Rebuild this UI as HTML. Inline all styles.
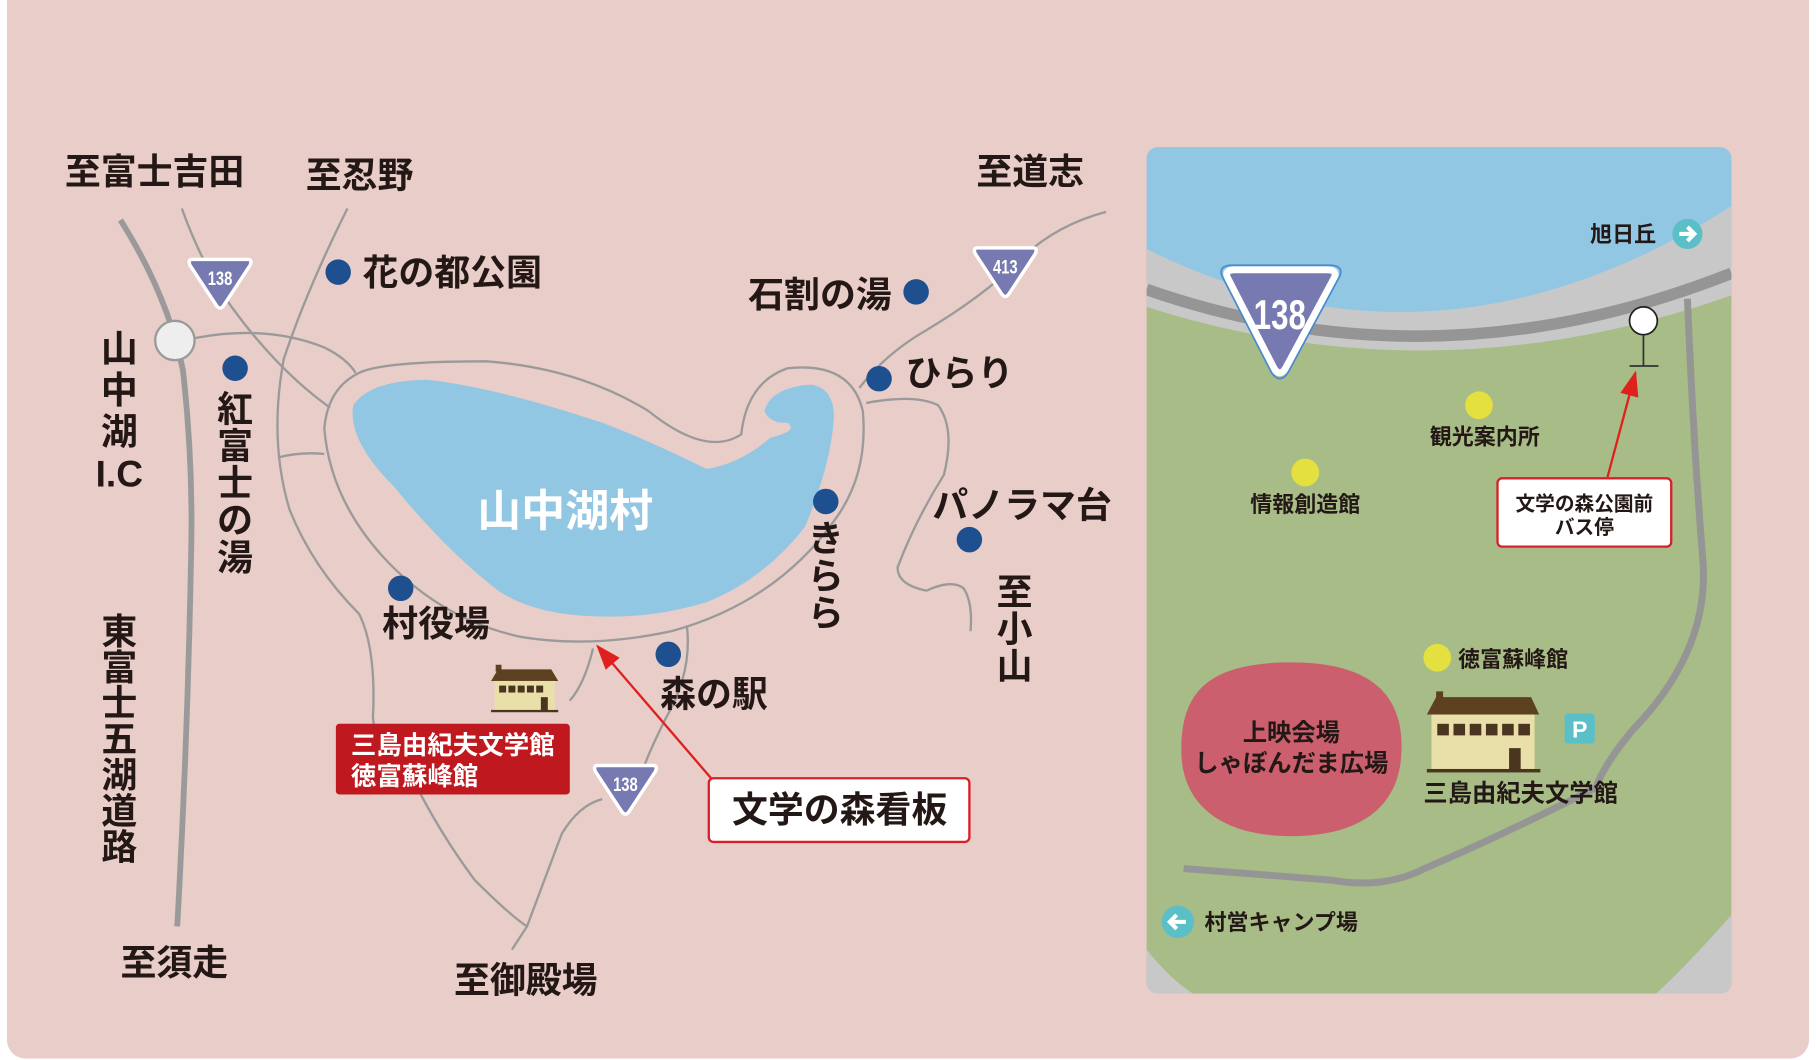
<!DOCTYPE html>
<html><head><meta charset="utf-8"><style>
html,body{margin:0;padding:0;background:#fff;}
svg{display:block;}
text{font-family:"Liberation Sans","Noto Sans CJK JP",sans-serif;font-weight:bold;fill:#231815;}
</style></head><body>
<svg width="1816" height="1060" viewBox="0 0 1568 915.3" preserveAspectRatio="none" xmlns="http://www.w3.org/2000/svg">
<defs>
<clipPath id="pc"><rect x="990" y="127" width="505" height="731" rx="10"/></clipPath>
<marker id="ah" markerWidth="22" markerHeight="16" refX="20" refY="8" orient="auto" markerUnits="userSpaceOnUse"><path d="M0,0 L22,8 L0,16z" fill="#e0201e"/></marker>
</defs>
<rect x="6" y="-20" width="1556" height="934" rx="16" fill="#e8cdc9"/>

<!-- right panel -->
<g clip-path="url(#pc)">
<rect x="990" y="127" width="505" height="731" fill="#a7bc86"/>
<path d="M990,127 H1495 V255 Q1240,345 990,265 Z" fill="#c8c8c8"/>
<path d="M990,250 Q1240,337 1495,236" fill="none" stroke="#959595" stroke-width="10"/>
<path d="M990,127 H1495 V178 Q1240,340 990,215 Z" fill="#92c7e3"/>
<path d="M1495,790 Q1460,830 1430,858 H1495Z" fill="#c8c8c8"/>
<path d="M990,820 Q1010,845 1030,858 H990Z" fill="#c8c8c8"/>
<path d="M1457,258 Q1462,380 1470,480 Q1478,560 1410,630 Q1385,660 1378,680 Q1300,720 1230,750 Q1195,768 1150,760 L1022,750" fill="none" stroke="#959595" stroke-width="6"/>
</g>
<!-- 138 big shield -->
<path d="M1060,240 Q1057,233 1066,233 H1146 Q1155,233 1152,240 L1110,318 Q1105,326 1100,318 Z" fill="#7779b1" stroke="#fff" stroke-width="6"/>
<path d="M1055,238 Q1052,229 1064,229 H1148 Q1160,229 1157,238 L1112,322 Q1105,332 1098,322 Z" fill="none" stroke="#4a8ad0" stroke-width="1.5"/>
<text x="1105" y="284" font-size="36" text-anchor="middle" style="fill:#fff" transform="translate(1105 0) scale(0.75 1) translate(-1105 0)">138</text>
<text x="1373" y="209" font-size="19">旭日丘</text>
<circle cx="1457" cy="202" r="13" fill="#5bbfc8"/>
<path d="M1450,202 H1462 M1457,196 L1463,202 L1457,208" stroke="#fff" stroke-width="3.5" fill="none"/>
<line x1="1419" y1="289" x2="1419" y2="316" stroke="#333" stroke-width="1.5"/>
<line x1="1407" y1="316" x2="1432" y2="316" stroke="#333" stroke-width="1.5"/>
<circle cx="1419" cy="277" r="12" fill="#fff" stroke="#222" stroke-width="1.5"/>
<line x1="1388" y1="412" x2="1412" y2="322" stroke="#e0201e" stroke-width="2" marker-end="url(#ah)"/>
<rect x="1293" y="413" width="150" height="59" rx="4" fill="#fff" stroke="#d8202a" stroke-width="2"/>
<text x="1368" y="441" font-size="17" text-anchor="middle">文学の森公園前</text>
<text x="1368" y="461" font-size="17" text-anchor="middle">バス停</text>
<circle cx="1277" cy="350" r="12" fill="#e3e03f"/>
<circle cx="1127" cy="408" r="12" fill="#e3e03f"/>
<circle cx="1241" cy="568" r="12" fill="#e3e03f"/>
<text x="1282" y="384" font-size="19" text-anchor="middle">観光案内所</text>
<text x="1127" y="442" font-size="19" text-anchor="middle">情報創造館</text>
<text x="1259" y="576" font-size="19">徳富蘇峰館</text>
<path d="M1115,572 C1195,572 1212,610 1210,650 C1208,700 1170,722 1115,722 C1055,722 1020,695 1020,648 C1020,600 1040,572 1115,572Z" fill="#cb5f6e"/>
<text x="1115" y="640" font-size="21" text-anchor="middle">上映会場</text>
<text x="1115" y="666" font-size="21" text-anchor="middle">しゃぼんだま広場</text>
<!-- building -->
<rect x="1240" y="597" width="6" height="8" fill="#5d4020"/>
<path d="M1232,617 L1240,602 H1322 L1329,617Z" fill="#5d4020"/>
<rect x="1236" y="617" width="89" height="48" fill="#e8e0a8"/>
<g fill="#4a3520"><rect x="1241" y="625" width="10" height="10"/><rect x="1255" y="625" width="10" height="10"/><rect x="1269" y="625" width="10" height="10"/><rect x="1283" y="625" width="10" height="10"/><rect x="1297" y="625" width="10" height="10"/><rect x="1311" y="625" width="10" height="10"/><rect x="1303" y="646" width="10" height="19"/></g>
<rect x="1232" y="664" width="98" height="3" fill="#4a3520"/>
<rect x="1351" y="616" width="26" height="26" rx="3" fill="#5bbfc8"/>
<text x="1364" y="637" font-size="20" text-anchor="middle" style="fill:#fff">P</text>
<text x="1313" y="692" font-size="21" text-anchor="middle">三島由紀夫文学館</text>
<circle cx="1017" cy="796" r="14" fill="#5bbfc8"/>
<path d="M1024,796 H1011 M1016,790 L1010,796 L1016,802" stroke="#fff" stroke-width="3.5" fill="none"/>
<text x="1040" y="803" font-size="19">村営キャンプ場</text>

<!-- left map roads -->
<g fill="none" stroke="#9a9a9a" stroke-width="2">
<path d="M310,322 Q330,312 420,312 Q500,318 560,355 Q610,395 640,375 Q645,330 680,318 Q735,312 745,355 Q750,410 720,450 Q670,520 580,545 Q510,560 450,550 Q380,535 330,480 Q285,430 280,370 Q283,335 310,322Z"/>
<path d="M157,180 Q175,230 200,265 Q240,320 285,352"/>
<path d="M168,292 Q230,280 280,300 Q300,310 307,322"/>
<path d="M300,180 Q265,250 245,310 Q232,380 250,440 Q270,490 310,530 Q325,560 322,620 Q325,650 355,670 Q380,720 410,760 Q440,790 455,800"/>
<path d="M240,395 Q260,390 280,392"/>
<path d="M442,820 L455,800 Q470,760 485,720 Q500,695 520,690"/>
<path d="M593,540 Q598,580 575,620 Q560,650 555,665"/>
<path d="M492,605 Q505,590 512,560"/>
<path d="M955,183 Q910,195 880,225 Q850,255 800,285 Q765,305 742,335"/>
<path d="M748,348 Q790,340 810,350 Q825,370 815,410 Q790,450 775,490 Q775,505 800,510 Q822,500 832,508 Q840,520 838,545"/>
</g>
<path d="M104,190 Q145,255 158,320 Q167,400 165,480 Q162,640 153,800" fill="none" stroke="#9a9a9a" stroke-width="5"/>
<circle cx="151" cy="294" r="17" fill="#eeeeee" stroke="#9a9a9a" stroke-width="2"/>
<!-- lake -->
<path d="M305,350 Q320,328 370,328 Q430,335 520,365 Q560,380 610,405 Q640,400 665,378 Q690,372 680,365 Q665,366 660,355 Q665,335 700,332 Q720,335 720,360 Q718,400 695,455 Q660,500 610,520 Q560,535 510,532 Q460,530 430,510 Q385,475 340,420 Q300,380 305,350Z" fill="#92c7e3"/>
<text x="488" y="454" font-size="38" text-anchor="middle" style="fill:#fff">山中湖村</text>

<!-- small shields -->
<g>
<path d="M166,224 H214 Q218,224 216,229 L193,264 Q190,268 187,264 L164,229 Q162,224 166,224Z" fill="#7779b1" stroke="#fff" stroke-width="3"/>
<text x="190" y="246" font-size="17" text-anchor="middle" style="fill:#fff" transform="translate(190 0) scale(0.75 1) translate(-190 0)">138</text>
<path d="M844,214 H892 Q896,214 894,219 L871,254 Q868,258 865,254 L842,219 Q840,214 844,214Z" fill="#7779b1" stroke="#fff" stroke-width="3"/>
<text x="868" y="236" font-size="17" text-anchor="middle" style="fill:#fff" transform="translate(868 0) scale(0.75 1) translate(-868 0)">413</text>
<path d="M516,661 H564 Q568,661 566,666 L543,701 Q540,705 537,701 L514,666 Q512,661 516,661Z" fill="#7779b1" stroke="#fff" stroke-width="3"/>
<text x="540" y="683" font-size="17" text-anchor="middle" style="fill:#fff" transform="translate(540 0) scale(0.75 1) translate(-540 0)">138</text>
</g>

<!-- dots -->
<g fill="#1e4f8f">
<circle cx="292" cy="235" r="11"/><circle cx="203" cy="318" r="11"/><circle cx="791" cy="252" r="11"/><circle cx="759" cy="327" r="11"/><circle cx="713" cy="433" r="11"/><circle cx="837" cy="466" r="11"/><circle cx="346" cy="508" r="11"/><circle cx="577" cy="565" r="11"/>
</g>

<!-- labels -->
<g font-size="31">
<text x="56" y="159">至富士吉田</text>
<text x="264" y="162">至忍野</text>
<text x="843" y="159">至道志</text>
<text x="313" y="246">花の都公園</text>
<text x="646" y="265">石割の湯</text>
<text x="782" y="333">ひらり</text>
<text x="805" y="447">パノラマ台</text>
<text x="330" y="549">村役場</text>
<text x="570" y="610">森の駅</text>
<text x="104" y="842">至須走</text>
<text x="392" y="857">至御殿場</text>
</g>
<g font-size="32" text-anchor="middle">
<text x="103" y="312">山</text><text x="103" y="348">中</text><text x="103" y="384">湖</text><text x="103" y="420">I.C</text>
</g>
<g font-size="31" text-anchor="middle">
<text x="203" y="364">紅</text><text x="203" y="396">富</text><text x="203" y="428">士</text><text x="203" y="460">の</text><text x="203" y="492">湯</text>
<text x="713" y="476">き</text><text x="713" y="508">ら</text><text x="713" y="540">ら</text>
<text x="876" y="522">至</text><text x="876" y="554">小</text><text x="876" y="586">山</text>
<text x="103" y="556">東</text><text x="103" y="587">富</text><text x="103" y="618">士</text><text x="103" y="649">五</text><text x="103" y="680">湖</text><text x="103" y="711">道</text><text x="103" y="742">路</text>
</g>

<!-- small building -->
<rect x="428" y="574" width="5" height="6" fill="#5d4020"/>
<path d="M424,588 L430,578 H476 L482,588Z" fill="#5d4020"/>
<rect x="427" y="588" width="52" height="26" fill="#e8e0a8"/>
<g fill="#4a3520"><rect x="431" y="592" width="6" height="6"/><rect x="439" y="592" width="6" height="6"/><rect x="447" y="592" width="6" height="6"/><rect x="455" y="592" width="6" height="6"/><rect x="463" y="592" width="6" height="6"/><rect x="467" y="602" width="6" height="12"/></g>
<rect x="424" y="613" width="58" height="2" fill="#4a3520"/>

<rect x="290" y="625" width="202" height="61" rx="3" fill="#c0181f"/>
<text x="303" y="651" font-size="22" style="fill:#fff">三島由紀夫文学館</text>
<text x="303" y="678" font-size="22" style="fill:#fff">徳富蘇峰館</text>

<line x1="614" y1="672" x2="516" y2="558" stroke="#e0201e" stroke-width="2" marker-end="url(#ah)"/>
<rect x="612" y="672" width="225" height="55" rx="4" fill="#fff" stroke="#d8202a" stroke-width="2"/>
<text x="725" y="710" font-size="31" text-anchor="middle">文学の森看板</text>
</svg>
</body></html>
